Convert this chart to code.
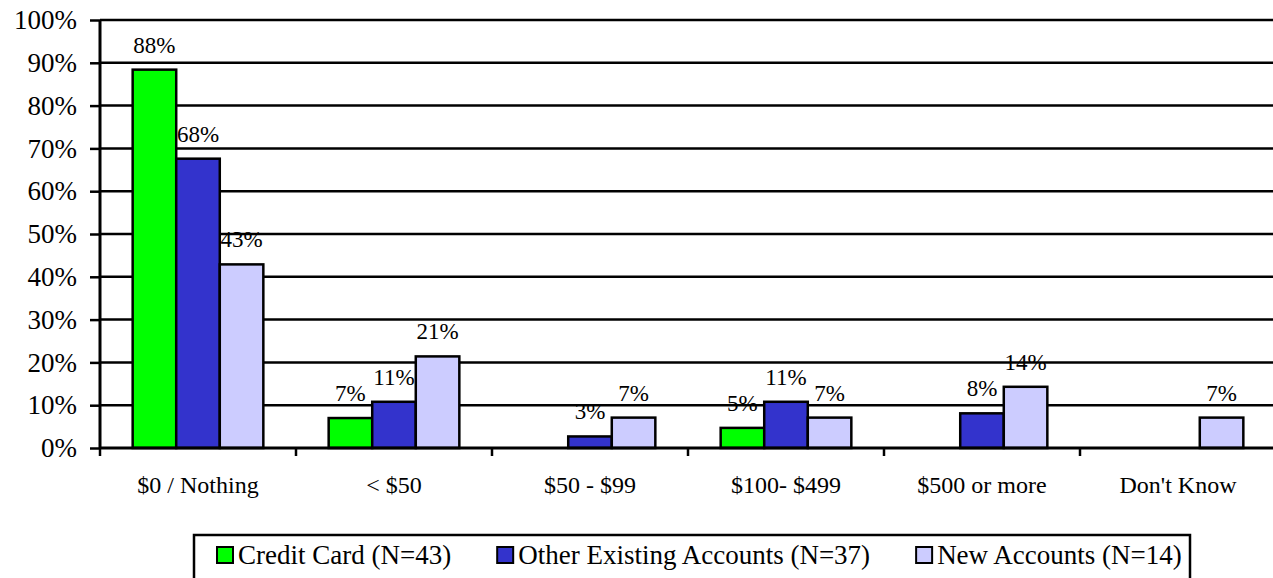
<!DOCTYPE html>
<html>
<head>
<meta charset="utf-8">
<script src="https://cdn.jsdelivr.net/npm/d3@7"></script>
<style>
  body { margin: 0; background: #fff; }
  svg { display: block; }
  svg text { font-family: 'Liberation Serif', 'Times New Roman', Times, 'DejaVu Serif', serif; }
</style>
</head>
<body>
<div id="chart"></div>
<script>
const categories = ['$0 / Nothing', '< $50', '$50 - $99', '$100- $499', '$500 or more', "Don't Know"]

const seriesNames = ['Credit Card (N=43)', 'Other Existing Accounts (N=37)', 'New Accounts (N=14)']

const creditCard = [88.4, 7.0, 0, 4.7, 0, 0]
const otherExisting = [67.6, 10.8, 2.7, 10.8, 8.1, 0]
const newAccounts = [42.9, 21.4, 7.1, 7.1, 14.3, 7.1]

const yTicks = [0, 10, 20, 30, 40, 50, 60, 70, 80, 90, 100]

const colors = ['#00FF00', '#3333CC', '#CCCCFF']

const W = 1273
const H = 578

const margin = {
  top: 20,
  left: 100,
  bottom: 130
}

const plotRight = 1276

const svg = d3
  .select('#chart')
  .append('svg')
  .attr('width', W)
  .attr('height', H)

const xPositionScale = d3
  .scaleBand()
  .domain(categories)
  .range([margin.left, plotRight])
  .padding(0)

const seriesScale = d3
  .scaleBand()
  .domain(seriesNames)
  .range([0, xPositionScale.bandwidth()])
  .paddingInner(0)
  .paddingOuter(0.75)

const yPositionScale = d3
  .scaleLinear()
  .domain([0, 100])
  .range([H - margin.bottom, margin.top])

// gridlines

svg
  .append('g')
  .selectAll('line')
  .data(yTicks.filter(d => d > 0))
  .enter()
  .append('line')
  .attr('x1', margin.left)
  .attr('x2', W)
  .attr('y1', d => yPositionScale(d))
  .attr('y2', d => yPositionScale(d))
  .attr('stroke', '#000')
  .attr('stroke-width', 2.5)

// bars

const datapoints = []
const allSeries = [creditCard, otherExisting, newAccounts]
categories.forEach((c, i) => {
  seriesNames.forEach((s, j) => {
    datapoints.push({ category: c, series: s, value: allSeries[j][i], color: colors[j] })
  })
})

const shown = datapoints.filter(d => d.value > 0)

svg
  .append('g')
  .selectAll('rect')
  .data(shown)
  .enter()
  .append('rect')
  .attr('x', d => xPositionScale(d.category) + seriesScale(d.series))
  .attr('y', d => yPositionScale(d.value))
  .attr('width', seriesScale.bandwidth())
  .attr('height', d => yPositionScale(0) - yPositionScale(d.value))
  .attr('fill', d => d.color)
  .attr('stroke', '#000')
  .attr('stroke-width', 2.5)

// value labels

svg
  .append('g')
  .selectAll('text')
  .data(shown)
  .enter()
  .append('text')
  .attr('x', d => xPositionScale(d.category) + seriesScale(d.series) + seriesScale.bandwidth() / 2)
  .attr('y', d => yPositionScale(d.value) - 17)
  .attr('text-anchor', 'middle')
  .attr('font-size', 23)
  .attr('fill', '#000')
  .text(d => Math.round(d.value) + '%')

// y axis

const yAxis = d3
  .axisLeft(yPositionScale)
  .tickValues(yTicks)
  .tickSize(10)
  .tickPadding(13)
  .tickFormat(d => d + '%')

const yAxisG = svg
  .append('g')
  .attr('class', 'axis y-axis')
  .attr('transform', 'translate(' + margin.left + ',0)')
  .call(yAxis)
  .attr('font-family', null)

yAxisG.select('.domain').attr('stroke', '#000').attr('stroke-width', 3).attr('d', 'M0,' + yPositionScale(100) + 'V' + yPositionScale(0))
yAxisG.selectAll('.tick line').attr('stroke', '#000').attr('stroke-width', 2.5)
yAxisG
  .selectAll('.tick text')
  .attr('font-size', 27)
  .attr('fill', '#000')

// x axis

const xAxisG = svg.append('g').attr('class', 'axis x-axis')

xAxisG
  .append('line')
  .attr('x1', margin.left)
  .attr('x2', W)
  .attr('y1', yPositionScale(0))
  .attr('y2', yPositionScale(0))
  .attr('stroke', '#000')
  .attr('stroke-width', 3)

xAxisG
  .selectAll('.xtick')
  .data(categories)
  .enter()
  .append('line')
  .attr('class', 'xtick')
  .attr('x1', d => xPositionScale(d))
  .attr('x2', d => xPositionScale(d))
  .attr('y1', yPositionScale(0))
  .attr('y2', yPositionScale(0) + 8)
  .attr('stroke', '#000')
  .attr('stroke-width', 2.5)

xAxisG
  .selectAll('.xlabel')
  .data(categories)
  .enter()
  .append('text')
  .attr('class', 'xlabel')
  .attr('x', d => xPositionScale(d) + xPositionScale.bandwidth() / 2)
  .attr('y', 493)
  .attr('text-anchor', 'middle')
  .attr('font-size', 24)
  .attr('fill', '#000')
  .text(d => d)

// legend

const legend = svg.append('g').attr('class', 'legend')

legend
  .append('rect')
  .attr('x', 194)
  .attr('y', 535)
  .attr('width', 996)
  .attr('height', 60)
  .attr('fill', '#fff')
  .attr('stroke', '#000')
  .attr('stroke-width', 2.5)

let lx = 217
seriesNames.forEach((name, i) => {
  const item = legend.append('g')
  item
    .append('rect')
    .attr('x', lx)
    .attr('y', 547)
    .attr('width', 16)
    .attr('height', 16)
    .attr('fill', colors[i])
    .attr('stroke', '#000')
    .attr('stroke-width', 2)
  const t = item
    .append('text')
    .attr('x', lx + 21)
    .attr('y', 564)
    .attr('font-size', 27)
    .attr('fill', '#000')
    .text(name)
  lx = lx + 21 + t.node().getComputedTextLength() + 46
})
</script>
</body>
</html>
